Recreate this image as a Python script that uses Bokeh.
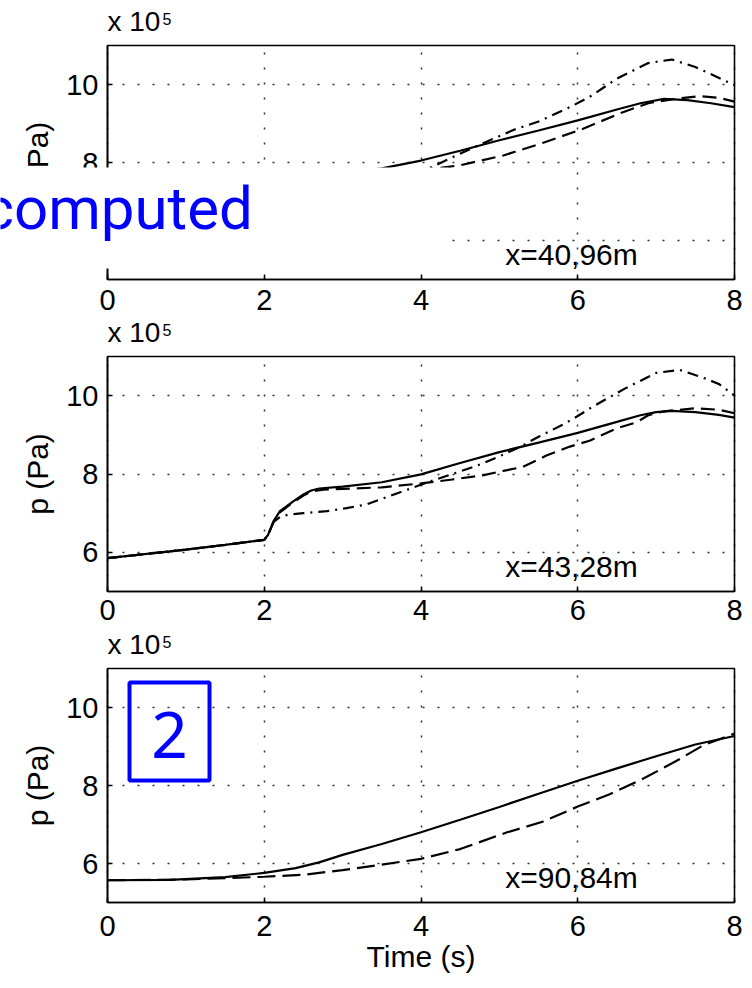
from bokeh.plotting import figure
from bokeh.models import Range1d, FixedTicker, Label, BoxAnnotation
from bokeh.layouts import column
from bokeh.embed import file_html
from bokeh.resources import INLINE

# ---------------- data (pressure in units of 1e5 Pa, time in s) ----------------
x_ticks = [0, 2, 4, 6, 8]
y_ticks = [6, 8, 10]
panel_names = ["x=40,96m", "x=43,28m", "x=90,84m"]

# panel 1 : x = 40.96 m
t1_solid = [0, 0.5, 1, 1.5, 2.0, 2.05, 2.12, 2.2, 2.37, 2.5, 2.6, 2.7, 3.0, 3.5, 4.0, 4.5, 5.0, 5.5, 6.0, 6.5, 6.8, 7.1, 7.4, 7.7, 8.0]
v1_solid = [5.85, 5.96, 6.07, 6.19, 6.32, 6.45, 6.8, 7.05, 7.3, 7.48, 7.58, 7.64, 7.72, 7.85, 8.05, 8.3, 8.57, 8.82, 9.08, 9.36, 9.52, 9.63, 9.6, 9.52, 9.42]
t1_dash = [0, 0.5, 1, 1.5, 2.0, 2.05, 2.12, 2.2, 2.37, 2.5, 2.6, 2.75, 3.0, 3.5, 4.0, 4.5, 5.05, 5.55, 6.05, 6.55, 6.9, 7.2, 7.55, 7.8, 8.0]
v1_dash = [5.85, 5.96, 6.07, 6.19, 6.32, 6.45, 6.78, 7.02, 7.28, 7.45, 7.55, 7.6, 7.63, 7.7, 7.8, 7.93, 8.18, 8.5, 8.85, 9.27, 9.52, 9.62, 9.7, 9.66, 9.56]
t1_dd = [0, 0.5, 1, 1.5, 2.0, 2.05, 2.12, 2.2, 2.3, 2.5, 2.8, 3.05, 3.3, 3.55, 3.8, 4.1, 4.45, 4.8, 5.2, 5.5, 5.9, 6.15, 6.5, 6.9, 7.2, 7.5, 7.75, 8.0]
v1_dd = [5.85, 5.96, 6.07, 6.19, 6.32, 6.45, 6.78, 6.9, 6.96, 7.0, 7.05, 7.13, 7.22, 7.4, 7.6, 7.85, 8.18, 8.5, 8.85, 9.05, 9.42, 9.68, 10.15, 10.55, 10.64, 10.45, 10.22, 9.98]

# panel 2 : x = 43.28 m
t2_solid = [0, 0.5, 1, 1.5, 2.0, 2.05, 2.12, 2.2, 2.37, 2.5, 2.6, 2.7, 3.0, 3.5, 4.0, 4.5, 5.0, 5.5, 6.0, 6.5, 6.8, 7.0, 7.2, 7.5, 7.8, 8.0]
v2_solid = [5.85, 5.96, 6.07, 6.19, 6.32, 6.45, 6.8, 7.05, 7.3, 7.48, 7.58, 7.63, 7.68, 7.79, 7.99, 8.28, 8.56, 8.8, 9.05, 9.33, 9.5, 9.58, 9.61, 9.58, 9.51, 9.44]
t2_dash = [0, 0.5, 1, 1.5, 2.0, 2.05, 2.12, 2.2, 2.37, 2.5, 2.6, 2.75, 3.0, 3.5, 4.0, 4.4, 4.8, 5.05, 5.3, 5.6, 5.9, 6.15, 6.5, 6.75, 6.9, 7.1, 7.5, 7.8, 8.0]
v2_dash = [5.85, 5.96, 6.07, 6.19, 6.32, 6.45, 6.78, 7.02, 7.28, 7.45, 7.55, 7.6, 7.62, 7.66, 7.76, 7.86, 7.97, 8.08, 8.18, 8.47, 8.7, 8.85, 9.17, 9.32, 9.5, 9.6, 9.68, 9.64, 9.55]
t2_dd = [0, 0.5, 1, 1.5, 2.0, 2.05, 2.12, 2.2, 2.3, 2.5, 2.8, 3.05, 3.3, 3.55, 3.8, 4.1, 4.4, 4.7, 5.0, 5.25, 5.5, 5.8, 6.0, 6.2, 6.6, 7.0, 7.3, 7.6, 7.8, 8.0]
v2_dd = [5.85, 5.96, 6.07, 6.19, 6.32, 6.45, 6.78, 6.9, 6.96, 7.0, 7.05, 7.13, 7.22, 7.4, 7.58, 7.8, 8.0, 8.2, 8.45, 8.68, 8.95, 9.25, 9.48, 9.73, 10.18, 10.58, 10.66, 10.46, 10.3, 10.0]

# panel 3 : x = 90.84 m
t3_solid = [0, 0.8, 1.5, 2.0, 2.4, 2.7, 3.0, 3.5, 4.0, 4.5, 5.0, 5.5, 6.0, 6.5, 7.0, 7.5, 8.0]
v3_solid = [5.57, 5.58, 5.65, 5.76, 5.88, 6.03, 6.22, 6.5, 6.8, 7.12, 7.45, 7.79, 8.12, 8.44, 8.75, 9.05, 9.27]
t3_dash = [0, 1, 2, 2.5, 3.0, 3.5, 4.0, 4.5, 5.1, 5.55, 6.0, 6.4, 6.85, 7.25, 7.6, 7.8, 8.0]
v3_dash = [5.57, 5.59, 5.66, 5.71, 5.83, 5.97, 6.12, 6.37, 6.8, 7.07, 7.46, 7.77, 8.19, 8.62, 9.03, 9.18, 9.33]

X0, X1, Y0, Y1 = 0, 8, 5, 11   # axes limits

# ---------------- layout (pixels) ----------------
FONT = "Liberation Sans"
W = 752
BOX_L, BOX_R = 107, 734
SX = (BOX_R - BOX_L) / (X1 - X0)


def make_panel(c_top, c_bot, b_top, b_bot, name, series, xstandoff, xlabel=None):
    sy = (b_bot - b_top) / (Y1 - Y0)
    xr = Range1d(X0 - BOX_L / SX, X1 + (W - BOX_R) / SX)
    yr = Range1d(Y0 - (c_bot - b_bot) / sy, Y1 + (b_top - c_top) / sy)
    p = figure(width=W, height=c_bot - c_top, output_backend="svg", toolbar_location=None,
               x_range=xr, y_range=yr,
               min_border_left=0, min_border_right=0, min_border_top=0, min_border_bottom=0)
    p.background_fill_color = "white"
    p.border_fill_color = "white"
    p.outline_line_color = None

    xa, ya = p.xaxis[0], p.yaxis[0]
    xa.fixed_location = Y0
    ya.fixed_location = X0
    xa.bounds = (X0, X1)
    ya.bounds = (Y0, Y1)
    for ax in (xa, ya):
        ax.axis_line_color = "black"
        ax.axis_line_width = 1.6
        ax.major_tick_in = 5
        ax.major_tick_out = 0
        ax.minor_tick_line_color = None
        ax.major_tick_line_width = 1.5
        ax.major_label_text_font = FONT
        ax.major_label_text_font_size = "29px"
        ax.major_label_text_color = "black"
        ax.axis_label_text_font = FONT
        ax.axis_label_text_font_size = "30px"
        ax.axis_label_text_font_style = "normal"
        ax.axis_label_text_color = "black"
    xa.ticker = FixedTicker(ticks=x_ticks)
    ya.ticker = FixedTicker(ticks=y_ticks)
    xa.major_label_standoff = xstandoff
    ya.major_label_standoff = 9
    ya.axis_label = "p (Pa)"
    ya.axis_label_standoff = 9
    if xlabel:
        xa.axis_label = xlabel
        xa.axis_label_standoff = 1

    xg, yg = p.xgrid[0], p.ygrid[0]
    xg.bounds = (X0, X1)
    xg.cross_bounds = (Y0, Y1)
    yg.bounds = (Y0, Y1)
    yg.cross_bounds = (X0, X1)
    for g in (xg, yg):
        g.grid_line_color = "#333333"
        g.grid_line_width = 1.5
        g.grid_line_dash = "2 13"

    for t, v, dash in series:
        p.line(t, v, line_color="black", line_width=2.2, line_dash=dash)

    # axes box
    p.add_layout(BoxAnnotation(left=X0, right=X1, bottom=Y0, top=Y1,
                               fill_color=None, fill_alpha=0,
                               line_color="black", line_alpha=1, line_width=1.6))
    p.add_layout(Label(x=5.92, y=Y0 + 9 / sy, text=name, text_align="center",
                       text_font=FONT, text_font_size="30px", text_color="black"))
    p.add_layout(Label(x=X0, y=Y1 + 9 / sy, text="x 10", text_align="left",
                       text_font=FONT, text_font_size="28px", text_color="black"))
    p.add_layout(Label(x=X0 + 55 / SX, y=Y1 + 21 / sy, text="5", text_align="left",
                       text_font=FONT, text_font_size="16px", text_color="black"))
    return p, sy


p1, sy1 = make_panel(0, 318, 45, 279, panel_names[0],
                     [(t1_solid, v1_solid, "solid"), (t1_dash, v1_dash, "14 7"), (t1_dd, v1_dd, "11 6 2 6")],
                     xstandoff=10)
p2, sy2 = make_panel(318, 632, 356, 591, panel_names[1],
                     [(t2_solid, v2_solid, "solid"), (t2_dash, v2_dash, "14 7"), (t2_dd, v2_dd, "11 6 2 6")],
                     xstandoff=8)
p3, sy3 = make_panel(632, 986, 668, 902, panel_names[2],
                     [(t3_solid, v3_solid, "solid"), (t3_dash, v3_dash, "18 7")],
                     xstandoff=13, xlabel="Time (s)")


# white patch and "computed" overlay on the first panel (positions in pixels of the page)
def px_x(x):
    return X0 + (x - BOX_L) / SX


def px_y1(y):
    return Y1 - (y - 45) / sy1


p1.add_layout(Label(x=px_x(214), y=px_y1(217.5), text=" ", text_font_size="1px",
                    text_align="center", text_baseline="middle",
                    background_fill_color="white", padding=(234, 50)))
p1.add_layout(Label(x=px_x(-18), y=px_y1(243), text="computed", text_align="left",
                    text_font="Roboto", text_font_size="60px", text_color="#0000FF"))


# blue framed "2" on the third panel
def px_y3(y):
    return Y1 - (y - 668) / sy3


p3.add_layout(BoxAnnotation(left=px_x(129), right=px_x(209), bottom=px_y3(780), top=px_y3(682),
                            fill_color=None, fill_alpha=0,
                            line_color="#0000FF", line_alpha=1, line_width=4))
p3.add_layout(Label(x=px_x(169), y=px_y3(757), text="2", text_align="center",
                    text_font="Noto Sans", text_font_size="64px", text_color="#0000FF"))

layout = column(p1, p2, p3, spacing=0)
open("out.html", "w").write(file_html(layout, INLINE))
